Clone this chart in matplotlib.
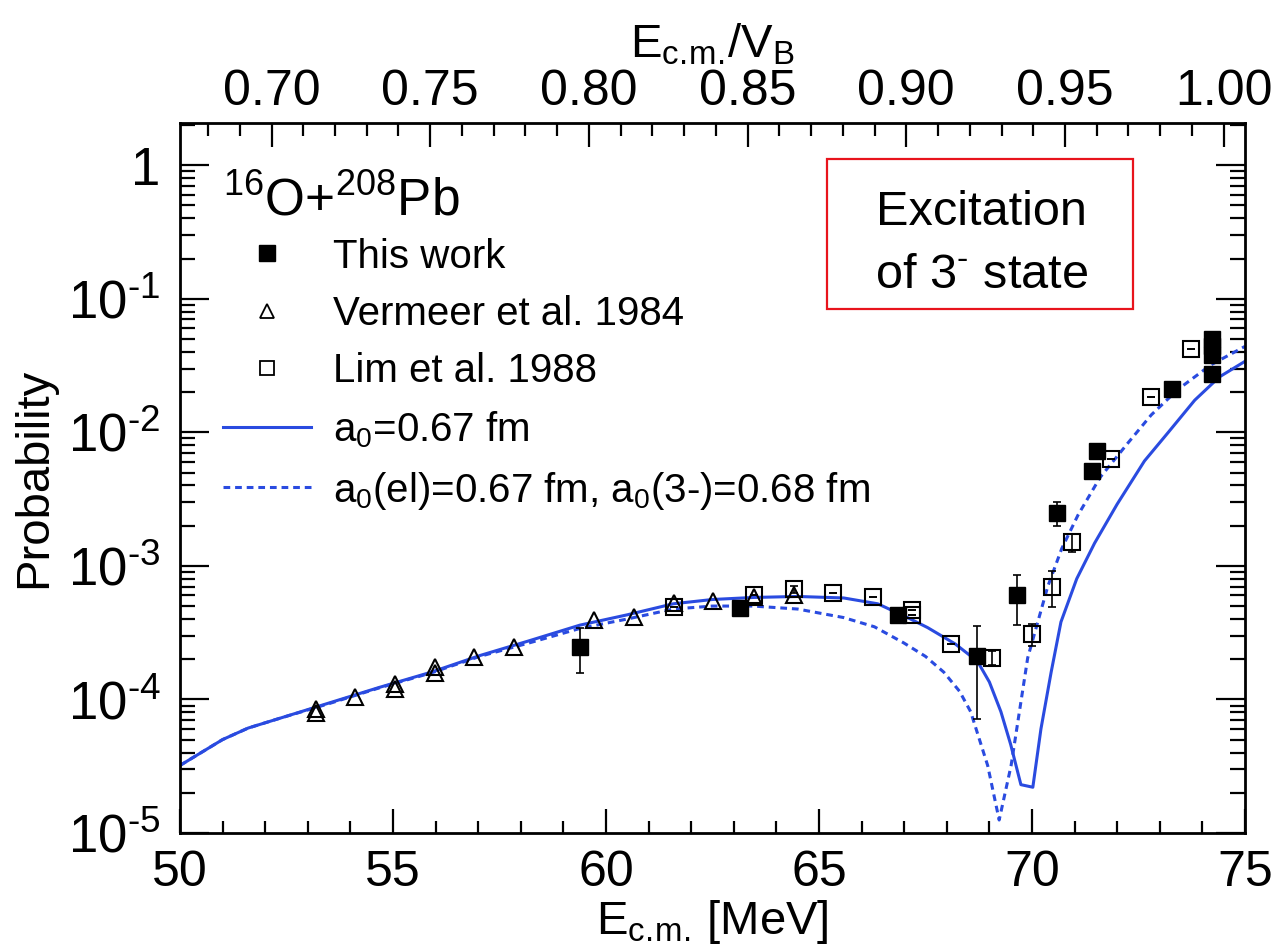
import numpy as np
import matplotlib
matplotlib.use('Agg')
import matplotlib.pyplot as plt
from matplotlib.ticker import FixedLocator, LogLocator, FuncFormatter, NullFormatter, MultipleLocator
from matplotlib.lines import Line2D
from matplotlib.patches import Rectangle

plt.rcParams['font.family'] = ['Liberation Sans', 'DejaVu Sans']
plt.rcParams['mathtext.fontset'] = 'custom'
plt.rcParams['mathtext.rm'] = 'Liberation Sans'
plt.rcParams['mathtext.it'] = 'Liberation Sans'

# Coulomb barrier used for the upper axis (MeV)
VB = 74.5

# This work (filled squares)
tw_E = [59.40, 63.14, 66.86, 68.72, 69.66, 70.59, 71.42, 71.52, 73.29, 74.22, 74.22, 74.22, 74.22]
tw_P = [2.48e-4, 4.8e-4, 4.3e-4, 2.1e-4, 6.0e-4, 2.5e-3, 5.1e-3, 7.2e-3, 2.12e-2, 2.75e-2, 3.8e-2, 4.4e-2, 5.0e-2]
tw_lo = [1.58e-4, 4.4e-4, 3.9e-4, 7.1e-5, 3.6e-4, 2.0e-3, 5.1e-3, 7.2e-3, 2.12e-2, 2.75e-2, 3.8e-2, 4.4e-2, 5.0e-2]
tw_hi = [3.45e-4, 5.3e-4, 4.7e-4, 3.57e-4, 8.6e-4, 3.0e-3, 5.1e-3, 7.2e-3, 2.12e-2, 2.75e-2, 3.8e-2, 4.4e-2, 5.0e-2]

# Vermeer et al. 1984 (open triangles)
ve_E = [53.19, 53.19, 54.12, 55.06, 55.06, 55.98, 55.98, 56.90, 57.84, 59.73, 60.66, 61.59, 62.51, 63.47, 64.41]
ve_P = [8.5e-5, 7.9e-5, 1.05e-4, 1.31e-4, 1.2e-4, 1.76e-4, 1.58e-4, 2.06e-4, 2.45e-4, 3.9e-4, 4.17e-4, 5.3e-4, 5.5e-4, 5.8e-4, 6.0e-4]

# Lim et al. 1988 (open squares)
li_E = [61.59, 63.47, 64.41, 65.33, 66.27, 67.19, 67.19, 68.11, 69.07, 69.99, 70.47, 70.93, 71.86, 72.80, 73.74]
li_P = [4.9e-4, 6.0e-4, 6.7e-4, 6.3e-4, 5.8e-4, 4.7e-4, 4.3e-4, 2.62e-4, 2.05e-4, 3.1e-4, 7.0e-4, 1.5e-3, 6.3e-3, 1.85e-2, 4.2e-2]
li_lo = [4.9e-4, 6.0e-4, 6.3e-4, 6.3e-4, 5.8e-4, 4.7e-4, 4.3e-4, 2.62e-4, 1.8e-4, 2.5e-4, 4.9e-4, 1.27e-3, 6.3e-3, 1.85e-2, 4.2e-2]
li_hi = [4.9e-4, 6.0e-4, 7.1e-4, 6.3e-4, 5.8e-4, 4.7e-4, 4.3e-4, 2.62e-4, 2.3e-4, 3.66e-4, 9.1e-4, 1.72e-3, 6.3e-3, 1.85e-2, 4.2e-2]

# calculation a0 = 0.67 fm (solid)
c1_E = [50, 51, 51.6, 52.33, 53.5, 54.68, 55.9, 57.04, 58.2, 59.39, 60.5, 61.58, 62.5, 63.46, 64.5,
        65.58, 66.38, 67.08, 67.55, 68.2, 68.72, 69.0, 69.27, 69.5, 69.74, 70.02, 70.21, 70.45, 70.68,
        71.05, 71.47, 72.0, 72.64, 73.2, 73.82, 74.4, 75.0]
c1_P = [3.2e-5, 5.0e-5, 6.1e-5, 7.2e-5, 9.4e-5, 1.23e-4, 1.6e-4, 2.13e-4, 2.75e-4, 3.6e-4, 4.3e-4, 5.2e-4,
        5.6e-4, 5.8e-4, 5.9e-4, 5.75e-4, 5.2e-4, 4.1e-4, 3.45e-4, 2.6e-4, 1.93e-4, 1.35e-4, 8.1e-5, 4.6e-5,
        2.3e-5, 2.2e-5, 6.0e-5, 1.6e-4, 3.8e-4, 8.0e-4, 1.48e-3, 2.9e-3, 6.1e-3, 1.0e-2, 1.74e-2, 2.6e-2, 3.4e-2]

# calculation a0(el)=0.67, a0(3-)=0.68 fm (dashed)
c2_E = [50, 51, 51.6, 52.33, 53.5, 54.68, 55.9, 57.04, 58.2, 59.39, 60.5, 61.58, 62.5, 63.46, 64.5,
        65.58, 66.3, 66.99, 67.5, 67.93, 68.3, 68.56, 68.96, 69.23, 69.51, 69.9, 70.37, 70.7, 71.08,
        71.6, 72.25, 72.8, 73.43, 74.2, 75.0]
c2_P = [3.2e-5, 5.0e-5, 6.1e-5, 7.2e-5, 9.3e-5, 1.22e-4, 1.58e-4, 2.1e-4, 2.65e-4, 3.4e-4, 4.0e-4, 4.75e-4,
        5.0e-4, 5.0e-4, 4.75e-4, 4.1e-4, 3.5e-4, 2.65e-4, 2.1e-4, 1.6e-4, 1.15e-4, 8.1e-5, 3.2e-5, 1.25e-5,
        3.2e-5, 2.05e-4, 7.0e-4, 1.35e-3, 2.4e-3, 4.6e-3, 8.3e-3, 1.35e-2, 2.1e-2, 3.2e-2, 4.4e-2]

blue = '#2a4be0'

fig = plt.figure(figsize=(12.76, 9.5), dpi=100)
ax = fig.add_axes([0.1410, 0.1232, 0.8347, 0.7473])

ax.plot(c1_E, c1_P, color=blue, lw=2.2)
ax.plot(c2_E, c2_P, color=blue, lw=2.2, dashes=(2.2, 1.6))

def errs(p, lo, hi):
    p = np.array(p)
    return [p - np.array(lo), np.array(hi) - p]

ax.errorbar(tw_E, tw_P, yerr=errs(tw_P, tw_lo, tw_hi), fmt='none', ecolor='black', elinewidth=1.2,
            capsize=3, capthick=1.2)
ax.errorbar(li_E, li_P, yerr=errs(li_P, li_lo, li_hi), fmt='none', ecolor='black', elinewidth=1.2,
            capsize=3, capthick=1.2)
ax.plot(ve_E, ve_P, ls='none', marker='^', ms=12, mfc='none', mec='black', mew=1.5)
ax.plot(li_E, li_P, ls='none', marker='s', ms=11, mfc='none', mec='black', mew=1.5)
ax.plot(tw_E, tw_P, ls='none', marker='s', ms=11, mfc='black', mec='black')

ax.set_yscale('log')
ax.set_xlim(50, 75)
ax.set_ylim(1e-5, 2.07)

def ylab(v, pos):
    e = int(round(np.log10(v)))
    if e == 0:
        return '1'
    return '10$^{\u2010%d}$' % (-e)

ax.yaxis.set_major_locator(LogLocator(base=10, numticks=10))
ax.yaxis.set_minor_locator(LogLocator(base=10, subs=np.arange(2, 10), numticks=20))
ax.yaxis.set_major_formatter(FuncFormatter(ylab))
ax.yaxis.set_minor_formatter(NullFormatter())
ax.xaxis.set_major_locator(MultipleLocator(5))
ax.xaxis.set_minor_locator(MultipleLocator(1))

ax.tick_params(which='both', direction='in', top=False, right=True, width=1.6)
ax.tick_params(axis='x', which='major', length=17, labelsize=36, pad=12)
ax.tick_params(axis='x', which='minor', length=9)
ax.tick_params(axis='y', which='major', length=21, labelsize=38, pad=14)
ax.tick_params(axis='y', which='minor', length=11)
for s in ax.spines.values():
    s.set_linewidth(2)

ax.set_xlabel(r'E$_{\mathregular{c.\!m.\!}}$ [MeV]', fontsize=34, labelpad=2)
ax.set_ylabel('Probability', fontsize=34, labelpad=8)

top = ax.secondary_xaxis('top', functions=(lambda e: e / VB, lambda r: r * VB))
top.xaxis.set_major_locator(FixedLocator([0.70, 0.75, 0.80, 0.85, 0.90, 0.95, 1.00]))
top.xaxis.set_minor_locator(MultipleLocator(0.01))
top.xaxis.set_major_formatter(FuncFormatter(lambda v, p: '%.2f' % v))
top.tick_params(which='both', direction='in', width=1.6, labelsize=36, pad=6)
top.tick_params(which='major', length=17)
top.tick_params(which='minor', length=9)
top.set_xlabel(r'E$_{\mathregular{c.\!m.\!}}$/V$_{\mathregular{B}}$', fontsize=34, labelpad=8)

handles = [
    Line2D([], [], ls='none', marker='s', ms=11, mfc='black', mec='black'),
    Line2D([], [], ls='none', marker='^', ms=10, mfc='none', mec='black', mew=1.3),
    Line2D([], [], ls='none', marker='s', ms=10, mfc='none', mec='black', mew=1.3),
    Line2D([], [], color=blue, lw=2.2),
    Line2D([], [], color=blue, lw=2.2, dashes=(2.2, 1.6)),
]
labels = ['This work', 'Vermeer et al. 1984', 'Lim et al. 1988',
          r'a$_{\mathregular{0}}$=0.67 fm',
          r'a$_{\mathregular{0}}$(el)=0.67 fm, a$_{\mathregular{0}}$(3-)=0.68 fm']
leg = ax.legend(handles, labels, loc='upper left', bbox_to_anchor=(0.025, 0.947), frameon=False,
                fontsize=29, handlelength=2.2, handletextpad=0.55, labelspacing=0.48,
                title=r'$^{16}$O+$^{208}$Pb', title_fontsize=37, borderaxespad=0)
leg._legend_box.align = 'left'
leg._legend_box.sep = 8

# annotation box
ax.add_patch(Rectangle((0.608, 0.738), 0.287, 0.211, transform=ax.transAxes, fill=True,
                       fc='white', ec='#e8141c', lw=1.6, zorder=5))
ax.text(0.753, 0.856, 'Excitation', transform=ax.transAxes, fontsize=35,
        ha='center', va='baseline', zorder=6)
ax.text(0.753, 0.768, 'of 3$^{\u2010}$ state', transform=ax.transAxes, fontsize=35,
        ha='center', va='baseline', zorder=6)

fig.savefig('out.png', dpi=100)
